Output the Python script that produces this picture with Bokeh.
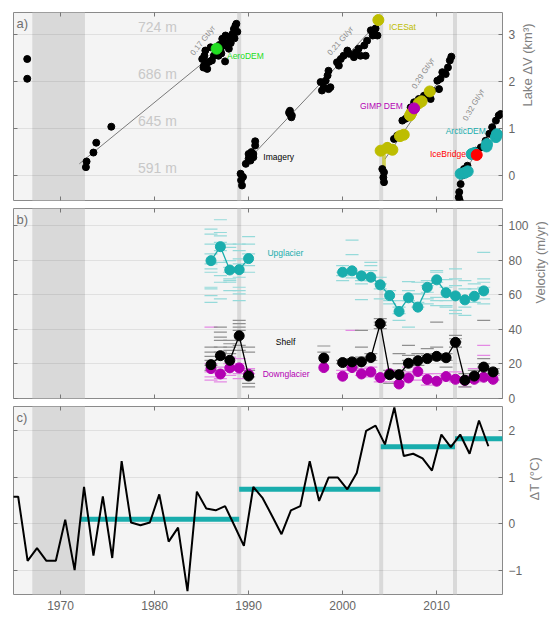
import math
from bokeh.plotting import figure
from bokeh.models import LinearAxis, FixedTicker, Range1d, ColumnDataSource, Label, BoxAnnotation, Span
from bokeh.layouts import column
from bokeh.embed import file_html
from bokeh.resources import INLINE
from bokeh.core.properties import value

# ---------------- data ----------------
x_range_years = (1965, 2017)
decade_ticks = [1970, 1980, 1990, 2000, 2010]
shade_start, shade_end = 1967.0, 1972.6
break_years = [1989.0, 2004.1, 2011.95]

# panel a: lake volume change (km^3)
img_year = [1966.46, 1966.46, 1972.7, 1972.77, 1973.5, 1973.8, 1975.4,
            1985.07, 1985.25, 1985.3, 1985.4, 1985.6, 1985.8, 1985.96, 1986.1, 1986.3, 1986.5, 1986.8,
            1987.0, 1987.2, 1987.4, 1987.5, 1987.55, 1987.9, 1987.9, 1988.09, 1988.27, 1988.44, 1988.6,
            1988.7, 1988.8, 1988.5, 1988.1, 1985.2, 1985.5, 1986.9, 1987.3, 1987.1,
            1989.15, 1989.2, 1989.3, 1989.4, 1989.7, 1990.0, 1990.0, 1990.2, 1990.3, 1990.5, 1990.5,
            1990.7, 1990.7, 1994.4, 1994.4, 1994.55, 1994.6, 1994.3, 1997.66, 1997.8, 1998.0, 1998.2,
            1998.4, 1998.5, 1998.5, 1998.7, 1999.4, 1999.6, 1999.8, 2000.1, 2000.5, 2000.7, 2001.2,
            2001.4, 2001.7, 2001.9, 2002.3, 2002.45, 2002.6, 2003.0, 2003.2, 2003.4, 2003.5, 2003.7,
            2004.22, 2004.33, 2004.4, 2004.4, 2004.2, 2005.46, 2005.8, 2006.35, 2006.7, 2006.9, 2007.23,
            2007.6, 2008.1, 2008.65, 2009.36, 2009.5, 2010.25, 2010.07, 2010.4, 2010.6, 2010.96, 2011.2,
            2011.4, 2011.56, 2004.8, 2005.0,
            2012.4, 2012.35, 2012.45, 2012.55, 2012.7, 2012.9, 2013.27, 2013.6, 2014.15, 2014.7, 2015.2,
            2015.6, 2015.9, 2016.3, 2016.6, 2016.8]
img_val = [2.48, 2.06, 0.18, 0.30, 0.49, 0.70, 1.04,
           2.48, 2.34, 2.55, 2.66, 2.27, 2.42, 2.73, 2.45, 2.55, 2.62, 2.55,
           2.66, 2.91, 2.77, 2.43, 2.98, 2.70, 2.84, 2.94, 3.01, 3.12, 3.19,
           3.23, 3.06, 2.92, 2.82, 2.30, 2.38, 2.78, 2.85, 2.60,
           0.04, -0.10, -0.21, -0.03, 0.25, 0.36, 0.46, 0.32, 0.50, 0.39, 0.46,
           0.64, 0.73, 1.38, 1.31, 1.24, 1.28, 1.34, 1.99, 1.81, 1.88, 2.02,
           2.13, 2.23, 1.84, 1.88, 2.41, 2.34, 2.48, 2.55, 2.66, 2.59, 2.52,
           2.62, 2.70, 2.55, 2.77, 2.55, 2.87, 3.09, 2.98, 3.02, 3.13, 2.98,
           0.14, -0.04, -0.14, 0.07, 0.53, 0.78, 0.85, 1.17, 1.21, 1.24, 1.45,
           1.56, 1.63, 1.70, 1.63, 1.81, 1.84, 2.02, 2.06, 2.20, 2.16, 2.30,
           2.45, 2.53, 0.62, 0.60,
           -0.35, -0.46, -0.53, -0.18, 0.00, 0.14, 0.21, 0.43, 0.53, 0.60, 0.74,
           0.89, 1.03, 1.17, 1.28, 1.31]
aero_year, aero_val = [1986.6], [2.70]
icesat_year = [2003.8, 2004.04, 2004.75, 2005.29, 2006.1, 2006.5, 2007.16, 2007.3, 2008.1, 2008.4, 2009.26]
icesat_val = [3.31, 0.53, 0.59, 0.55, 0.84, 0.87, 1.28, 1.33, 1.54, 1.58, 1.79]
icesat_err_year = [2004.3, 2004.5]
icesat_err_top = [0.50, 0.50]
icesat_err_bottom = [0.05, 0.10]
gimp_year, gimp_val = [2007.6], [1.43]
arctic_year = [2012.55, 2013.0, 2013.3, 2013.72, 2014.0, 2015.3, 2015.35, 2016.3, 2016.4]
arctic_val = [0.04, 0.06, 0.09, 0.46, 0.48, 0.62, 0.67, 0.82, 0.88]
icebridge_year, icebridge_val = [2014.26], [0.44]

fit_x0 = [1972.0, 1990.5, 2004.5, 2012.4]
fit_y0 = [0.25, 0.45, 0.35, -0.10]
fit_x1 = [1986.5, 2002.8, 2011.5, 2016.8]
fit_y1 = [2.62, 3.05, 2.38, 1.31]
rate_labels = ["0.17 Gt/yr", "0.21 Gt/yr", "0.29 Gt/yr", "0.32 Gt/yr"]
rate_x = [1984.36, 1998.9, 2007.95, 2013.4]
rate_y = [2.52, 2.52, 1.81, 1.13]
rate_angle = [52, 49, 57, 60]

elev_labels = ["724 m", "686 m", "645 m", "591 m"]
elev_x = [1980.3, 1980.3, 1980.3, 1980.3]
elev_y = [3.16, 2.16, 1.17, 0.16]

src_labels = ["AeroDEM", "Imagery", "ICESat", "GIMP DEM", "ArcticDEM", "IceBridge"]
src_x = [1987.7, 1991.56, 2004.93, 2001.84, 2010.96, 2009.29]
src_y = [2.55, 0.39, 3.17, 1.49, 0.94, 0.47]

# panel b: velocity (m/yr)
vel_years_early = [1986, 1987, 1988, 1989, 1990]
up_early = [79.8, 87.9, 74.4, 74.6, 81.0]
shelf_early = [19.6, 24.8, 22.1, 36.3, 13.0]
down_early = [17.3, 14.2, 17.7, 17.7, 14.0]
vel_years_late = [2000, 2001, 2002, 2003, 2004, 2005, 2006, 2007, 2008, 2009, 2010, 2011, 2012, 2013, 2014, 2015, 2016]
up_late = [73.1, 73.9, 71.0, 70.2, 65.8, 59.6, 50.4, 58.3, 52.9, 64.4, 68.7, 61.2, 59.4, 57.1, 59.2, 62.3]
shelf_late = [20.8, 21.2, 21.2, 23.7, 43.3, 13.8, 13.8, 20.4, 21.9, 23.1, 24.4, 23.6, 32.5, 10.6, 13.0, 18.2, 15.4]
down_late = [12.9, 17.9, 14.2, 15.4, 12.1, 14.4, 8.4, 11.9, 15.6, 11.0, 10.0, 12.7, 11.1, 10.4, 11.1, 12.3, 11.1]
shelf_1998, down_1998 = [23.4], [17.9]
single_year = [1998]

up_dash = {1986: [98.1, 95.2, 89.4, 83.7, 77.9, 75.0, 73.1, 64.4, 63.5, 59.6, 55.7],
           1987: [103.5, 96.1, 94.2, 90.4, 85.6, 78.8, 71.1, 67.3, 57.7],
           1988: [89.4, 87.5, 79.8, 75.9, 73.1, 69.2, 68.3, 67.3, 62.5],
           1989: [89.4, 85.6, 80.8, 77.9, 73.1, 70.2, 64.4, 62.5, 60.6, 56.7],
           1990: [93.7, 89.4, 83.7, 76.9, 73.1],
           2000: [76.9, 73.1, 71.1, 68.3], 2001: [91.7, 83.3, 72.1, 69.8],
           2002: [68.3, 66.4, 57.3], 2003: [78.8, 76.9, 74.0, 68.3],
           2004: [70.2, 66.4, 63.5, 57.7], 2005: [62.5, 56.7, 54.8],
           2006: [56.7, 52.9, 49.1, 45.2], 2007: [67.7, 62.5, 56.7, 41.3],
           2008: [67.3, 60.6, 55.7, 52.9], 2009: [68.3, 65.4, 61.5, 57.7, 54.8],
           2010: [74.0, 73.1, 67.3, 58.6, 56.7, 53.8], 2011: [68.8, 64.4, 56.7, 53.8, 52.9],
           2012: [75.0, 69.2, 65.4, 51.0, 49.1], 2013: [68.3, 63.5, 52.9, 48.1],
           2014: [66.4, 63.5, 55.7], 2015: [84.6, 69.2, 67.3, 64.4, 57.7, 54.8]}
shelf_dash = {1986: [29.8, 26.9, 24.4, 22.1, 19.2, 16.3], 1987: [41.3, 38.4, 35.5, 33.6, 29.8, 26.9],
              1988: [33.6, 31.7, 29.8, 27.9, 26.0], 1989: [45.2, 43.3, 41.3, 39.4, 30.8, 27.9],
              1990: [29.8, 26.9, 16.3, 12.5, 8.7, 6.7], 1998: [30.4, 26.9],
              2000: [22.1, 20.2], 2001: [23.1, 18.2], 2002: [39.4, 29.8, 24.0], 2003: [26.0, 22.1],
              2004: [46.2, 44.2, 42.3, 40.4], 2005: [16.3, 12.5, 8.7], 2006: [26.0, 20.2, 16.3],
              2007: [30.8, 25.0, 22.1], 2008: [26.0, 22.1, 19.2], 2009: [28.9, 25.0, 22.1],
              2010: [44.2, 29.8, 26.0, 22.1], 2011: [26.0, 22.1, 18.2], 2012: [36.5, 34.6, 32.7, 29.8],
              2013: [14.4, 10.6, 6.7], 2014: [16.3, 12.5], 2015: [45.2, 23.1, 20.2, 18.2], 2016: [17.3, 14.4]}
down_dash = {1986: [41.3, 20.2, 15.4, 12.5, 10.6], 1987: [18.2, 14.4, 11.5, 9.6],
             1988: [24.0, 20.2, 16.3, 13.4], 1989: [23.1, 20.2, 14.4, 11.5], 1990: [17.3, 14.4],
             2000: [16.3, 14.4], 2001: [39.4, 20.2, 16.3], 2002: [17.3, 13.4], 2003: [18.2, 14.4, 12.5],
             2004: [14.4, 11.5, 9.6], 2005: [12.5, 9.6], 2006: [16.3, 13.4, 9.6], 2007: [18.2, 15.4, 12.5],
             2008: [13.4, 10.6], 2009: [14.4, 10.6, 7.7], 2010: [14.4, 11.5, 9.6], 2011: [13.4, 10.6],
             2012: [15.4, 12.5, 9.6], 2013: [12.5, 9.6, 6.7], 2014: [17.3, 13.4, 9.6],
             2015: [30.8, 25.0, 16.3], 2016: [13.4, 10.6]}
vel_labels = ["Upglacier", "Shelf", "Downglacier"]
vel_label_x = [1992.0, 1992.9, 1991.5]
vel_label_y = [84.2, 32.7, 14.4]

# panel c: air temperature anomaly (deg C)
temp_year = [1964.5 + i for i in range(52)]
temp_val = [0.58, 0.58, -0.79, -0.52, -0.79, -0.79, 0.09, -0.99, 0.79, -0.68,
            0.59, -0.73, 1.34, 0.03, -0.03, 0.03, 0.63, -0.38, -0.08, -1.44,
            0.69, 0.33, 0.29, 0.38, -0.04, -0.47, 0.79, 0.55, 0.17, -0.22,
            0.29, 0.38, 1.34, 0.49, 0.99, 0.99, 0.74, 1.09, 1.99, 2.10,
            1.70, 2.49, 1.45, 1.50, 1.40, 1.14, 1.91, 1.64, 1.91, 1.50,
            2.21, 1.66]
mean_start = [1972.1, 1989.0, 2004.05, 2011.95]
mean_end = [1989.0, 2004.0, 2011.95, 2017.0]
mean_val = [0.10, 0.74, 1.65, 1.82]

# ---------------- styling ----------------
FONT = "Liberation Sans"
BLACK = "#000000"
CYAN = "#19adad"
MAGENTA = "#b300b3"
OLIVE = "#bdbd00"
GREEN = "#22dd22"
RED = "#ff0000"
AXIS_GRAY = "#666666"


def flatten(d):
    xs, ys = [], []
    for k, vals in d.items():
        for v in vals:
            xs.append(k)
            ys.append(v)
    return xs, ys


def tick_only_axis(ticks):
    return LinearAxis(ticker=FixedTicker(ticks=ticks), axis_line_color=None,
                      major_tick_in=4, major_tick_out=0, minor_tick_line_color=None,
                      major_tick_line_color="#777777",
                      major_label_overrides={t: "" for t in ticks},
                      major_label_standoff=0)


def make_fig(yr, yticks, frame_h, top, bottom, title, panel_label, show_x_labels):
    p = figure(frame_width=489, frame_height=frame_h,
               x_range=Range1d(*x_range_years), y_range=Range1d(*yr),
               output_backend="svg", toolbar_location=None,
               y_axis_location="right",
               min_border_left=13, min_border_right=0, min_border_top=top, min_border_bottom=bottom,
               background_fill_color="#f4f4f4", border_fill_color="white",
               outline_line_color="#8a8a8a", outline_line_width=1)
    p.xgrid.visible = False
    p.ygrid.ticker = FixedTicker(ticks=yticks)
    p.ygrid.grid_line_color = "#000000"
    p.ygrid.grid_line_alpha = 0.08
    p.ygrid.grid_line_width = 1

    ya = p.yaxis[0]
    ya.ticker = FixedTicker(ticks=yticks)
    ya.axis_line_color = None
    ya.major_tick_in = 4
    ya.major_tick_out = 0
    ya.minor_tick_line_color = None
    ya.major_tick_line_color = "#777777"
    ya.major_label_text_font = FONT
    ya.major_label_text_font_size = "12px"
    ya.major_label_text_color = AXIS_GRAY
    ya.major_label_standoff = 6
    ya.axis_label = title
    ya.axis_label_text_font = FONT
    ya.axis_label_text_font_style = "normal"
    ya.axis_label_text_font_size = "13px"
    ya.axis_label_text_color = "#808080"
    ya.axis_label_standoff = 9
    ya.axis_label_orientation = math.pi / 2

    xa = p.xaxis[0]
    xa.ticker = FixedTicker(ticks=decade_ticks)
    xa.axis_line_color = None
    xa.major_tick_in = 4
    xa.major_tick_out = 0
    xa.minor_tick_line_color = None
    xa.major_tick_line_color = "#777777"
    if show_x_labels:
        xa.major_label_text_font = FONT
        xa.major_label_text_font_size = "12px"
        xa.major_label_text_color = AXIS_GRAY
        xa.major_label_standoff = 6
    else:
        xa.major_label_overrides = {t: "" for t in decade_ticks}
        xa.major_label_standoff = 0

    p.add_layout(tick_only_axis(yticks), "left")
    p.add_layout(tick_only_axis(decade_ticks), "above")

    p.add_layout(BoxAnnotation(left=shade_start, right=shade_end, fill_color="#d9d9d9",
                               fill_alpha=1.0, line_color=None, level="image"))
    for b in break_years:
        p.add_layout(Span(location=b, dimension="height", line_color="#d9d9d9",
                          line_width=4, level="image"))

    p.add_layout(Label(x=x_range_years[0], y=yr[1], x_offset=3, y_offset=-3,
                       text=panel_label, text_baseline="top", text_font=FONT,
                       text_font_size="13px", text_color="#707070"))
    return p


# ---------------- panel a ----------------
p1 = make_fig((-0.53, 3.47), [0, 1, 2, 3], 188, 12, 4, "Lake \u0394V (km\u00b3)", "a)", False)

p1.text(x=elev_x, y=elev_y, text=elev_labels, text_align="center", text_baseline="middle",
        text_font=value(FONT), text_font_size="14px", text_color="#c8c8c8")
p1.segment(x0=fit_x0, y0=fit_y0, x1=fit_x1, y1=fit_y1, line_color="#7a7a7a", line_width=1)
p1.segment(x0=icesat_err_year, y0=icesat_err_bottom, x1=icesat_err_year, y1=icesat_err_top,
           line_color=OLIVE, line_width=1.2)
p1.scatter(img_year, img_val, size=7, color=BLACK)
p1.scatter(aero_year, aero_val, size=11, color=GREEN)
p1.scatter(icesat_year, icesat_val, size=11, color=OLIVE)
p1.scatter(gimp_year, gimp_val, size=11, color=MAGENTA)
p1.scatter(arctic_year, arctic_val, size=11, color=CYAN)
p1.scatter(icebridge_year, icebridge_val, size=11, color=RED)

rate_src = ColumnDataSource(dict(x=rate_x, y=rate_y, t=rate_labels, a=rate_angle))
p1.text(x="x", y="y", text="t", angle="a", angle_units="deg", source=rate_src,
        text_font=value(FONT), text_font_size="8px", text_color="#8c8c8c",
        text_baseline="bottom")

src_colors = [GREEN, BLACK, OLIVE, MAGENTA, CYAN, RED]
lab_src = ColumnDataSource(dict(x=src_x, y=src_y, t=src_labels, c=src_colors))
p1.text(x="x", y="y", text="t", text_color="c", source=lab_src,
        text_font=value(FONT), text_font_size="8.5px", text_baseline="middle")

# ---------------- panel b ----------------
p2 = make_fig((0, 110), [0, 20, 40, 60, 80, 100], 190, 4, 8, "Velocity (m/yr)", "b)", False)

ux, uy = flatten(up_dash)
sx, sy = flatten(shelf_dash)
dx, dy = flatten(down_dash)
p2.scatter(ux, uy, marker="dash", size=13, line_color="#96dada", line_width=1.2)
p2.scatter(dx, dy, marker="dash", size=13, line_color="#e48ae4", line_width=1.2)
p2.scatter(sx, sy, marker="dash", size=13, line_color="#8f8f8f", line_width=1.2)

p2.scatter(vel_years_early, down_early, size=10, color=MAGENTA)
p2.scatter(vel_years_late, down_late, size=10, color=MAGENTA)
p2.scatter(single_year, down_1998, size=10, color=MAGENTA)

p2.line(vel_years_early, up_early, line_color=CYAN, line_width=1.3)
p2.line(vel_years_late[:-1], up_late, line_color=CYAN, line_width=1.3)
p2.scatter(vel_years_early, up_early, size=10, color=CYAN)
p2.scatter(vel_years_late[:-1], up_late, size=10, color=CYAN)

p2.line(vel_years_early, shelf_early, line_color=BLACK, line_width=1.3)
p2.line(vel_years_late, shelf_late, line_color=BLACK, line_width=1.3)
p2.scatter(vel_years_early, shelf_early, size=10, color=BLACK)
p2.scatter(vel_years_late, shelf_late, size=10, color=BLACK)
p2.scatter(single_year, shelf_1998, size=10, color=BLACK)

vl_src = ColumnDataSource(dict(x=vel_label_x, y=vel_label_y, t=vel_labels, c=[CYAN, BLACK, MAGENTA]))
p2.text(x="x", y="y", text="t", text_color="c", source=vl_src,
        text_font=value(FONT), text_font_size="8.5px", text_baseline="middle")

# ---------------- panel c ----------------
p3 = make_fig((-1.51, 2.51), [-1, 0, 1, 2], 188, 0, 22, "\u0394T (\u00b0C)", "c)", True)
p3.segment(x0=mean_start, x1=mean_end, y0=mean_val, y1=mean_val, line_color=CYAN, line_width=5)
p3.line(temp_year, temp_val, line_color=BLACK, line_width=2)

layout = column(p1, p2, p3, spacing=0)
open("out.html", "w").write(file_html(layout, INLINE))
